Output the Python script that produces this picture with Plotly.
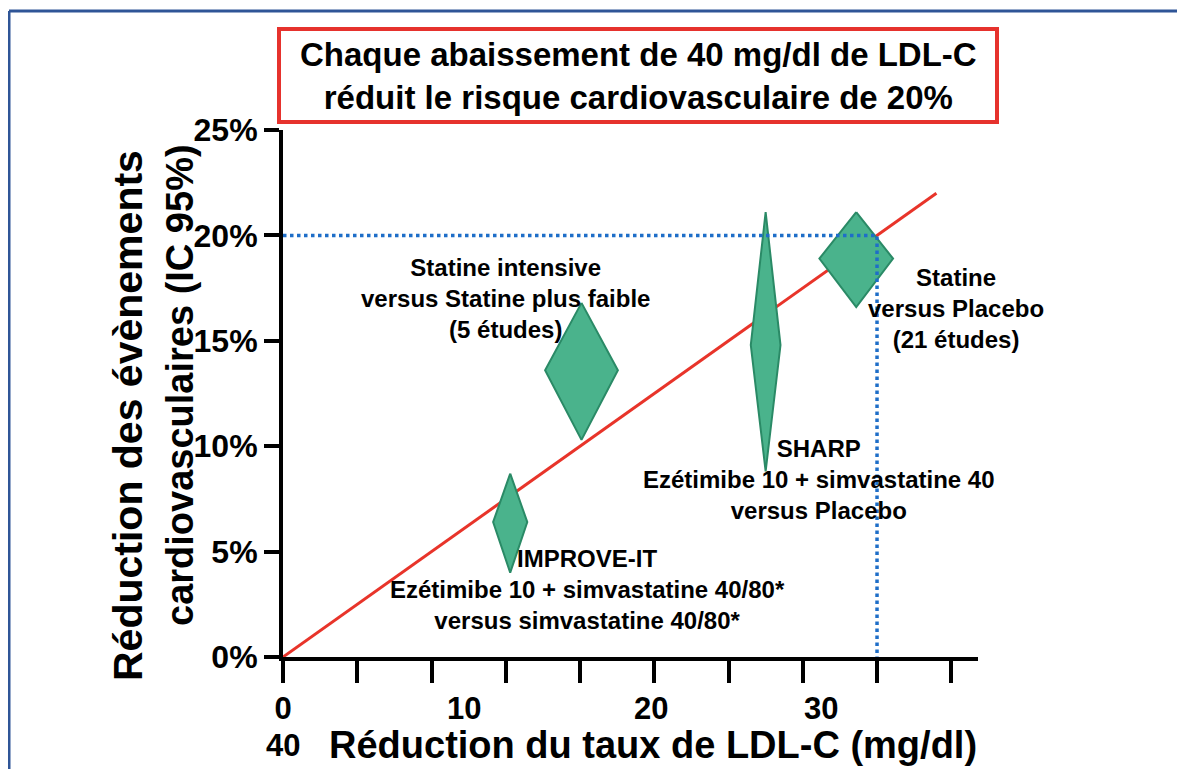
import plotly.graph_objects as go

# ---------------- data ----------------
study_names = ["IMPROVE-IT", "Statine intensive", "SHARP", "Statine vs Placebo"]
ldl_reduction = [15.3, 20.1, 32.5, 38.6]        # mg/dl (diamond centre)
ldl_halfwidth = [1.15, 2.45, 1.0, 2.48]         # mg/dl (diamond half width)
risk_mid = [6.4, 13.6, 14.8, 18.9]              # % reduction (point estimate)
risk_low = [4.0, 10.3, 8.8, 16.6]               # % lower CI
risk_high = [8.7, 16.8, 21.1, 21.1]             # % upper CI

reg_x = [0, 44]                                 # regression line (mg/dl)
reg_y = [0, 22]                                 # % reduction

ref_x = [0, 40, 40]                             # 40 mg/dl -> 20 %
ref_y = [20, 20, 0]

y_ticks = [0, 5, 10, 15, 20, 25]
y_tick_text = ["0%", "5%", "10%", "15%", "20%", "25%"]
x_ticks = [0, 5, 10, 15, 20, 25, 30, 35, 40, 45]
x_label_pos = [0, 12.2, 24.8, 36.25]
x_label_text = ["0", "10", "20", "30", "40"]

label_texts = [
    "IMPROVE-IT<br>Ezétimibe 10 + simvastatine 40/80*<br>versus simvastatine 40/80*",
    "Statine intensive<br>versus Statine plus faible<br>(5 études)",
    "SHARP<br>Ezétimibe 10 + simvastatine 40<br>versus Placebo",
    "Statine<br>versus Placebo<br>(21 études)",
]
label_x = [20.5, 14.95, 36.1, 45.3]
label_y = [3.2, 17.0, 8.4, 16.55]

title_text = "Chaque abaissement de 40 mg/dl de LDL-C<br>réduit le risque cardiovasculaire de 20%"
x_title = "Réduction du taux de LDL-C (mg/dl)"
y_title_1 = "Réduction des évènements"
y_title_2 = "cardiovasculaires (IC 95%)"

# ---------------- layout helpers ----------------
OFF = 8                     # page body margin
W, H = 1185 - OFF, 769 - OFF
L, R, T, B = 283 - OFF, 207, 130 - OFF, 112
PW, PH = W - L - R, H - T - B


def px_x(px):
    """screen pixel x -> paper coordinate"""
    return (px - OFF - L) / PW


def px_y(py):
    """screen pixel y -> paper coordinate"""
    return (H - B - (py - OFF)) / PH


FONT = "Liberation Sans, Arial, sans-serif"
GREEN = "rgb(74,179,140)"
GREEN_DARK = "rgb(42,138,102)"
RED = "rgb(232,52,42)"
BLUE = "rgb(30,110,200)"

fig = go.Figure()

# regression line
fig.add_trace(go.Scatter(x=reg_x, y=reg_y, mode="lines",
                         line=dict(color=RED, width=3), showlegend=False, hoverinfo="skip"))

# diamonds
for cx, hw, lo, mid, hi in zip(ldl_reduction, ldl_halfwidth, risk_low, risk_mid, risk_high):
    fig.add_trace(go.Scatter(
        x=[cx, cx + hw, cx, cx - hw, cx],
        y=[hi, mid, lo, mid, hi],
        mode="lines", fill="toself", fillcolor=GREEN,
        line=dict(color=GREEN_DARK, width=2), showlegend=False, hoverinfo="skip"))

# reference dotted line
fig.add_trace(go.Scatter(x=ref_x, y=ref_y, mode="lines",
                         line=dict(color=BLUE, width=3.5, dash="dot"), showlegend=False,
                         hoverinfo="skip", cliponaxis=False))

# invisible trace for label axis
fig.add_trace(go.Scatter(x=[0], y=[0], xaxis="x2", mode="markers",
                         marker=dict(opacity=0), showlegend=False, hoverinfo="skip"))

annotations = []
for t, lx, ly in zip(label_texts, label_x, label_y):
    annotations.append(dict(x=lx, y=ly, xref="x", yref="y", text=t, showarrow=False,
                            align="center", xanchor="center", yanchor="middle",
                            font=dict(family=FONT, size=24, color="black", weight="bold")))

# main title in box
annotations.append(dict(x=px_x(638), y=px_y(76), xref="paper", yref="paper", text=title_text,
                        showarrow=False, align="center", xanchor="center", yanchor="middle",
                        font=dict(family=FONT, size=33, color="black", weight="bold")))

# x title and stray "40"
annotations.append(dict(x=px_x(653), y=px_y(745), xref="paper", yref="paper", text=x_title,
                        showarrow=False, xanchor="center", yanchor="middle",
                        font=dict(family=FONT, size=38, color="black", weight="bold")))
annotations.append(dict(x=px_x(283), y=px_y(745), xref="paper", yref="paper", text=x_label_text[4],
                        showarrow=False, xanchor="center", yanchor="middle",
                        font=dict(family=FONT, size=31, color="black", weight="bold")))

# y title (two lines)
annotations.append(dict(x=px_x(128), y=px_y(416), xref="paper", yref="paper", text=y_title_1,
                        showarrow=False, textangle=-90, xanchor="center", yanchor="middle",
                        font=dict(family=FONT, size=41, color="black", weight="bold")))
annotations.append(dict(x=px_x(180), y=px_y(385), xref="paper", yref="paper", text=y_title_2,
                        showarrow=False, textangle=-90, xanchor="center", yanchor="middle",
                        font=dict(family=FONT, size=38, color="black", weight="bold")))

shapes = [
    # title box
    dict(type="rect", xref="paper", yref="paper", x0=px_x(279), x1=px_x(997),
         y0=px_y(122), y1=px_y(29), line=dict(color="rgb(230,50,45)", width=4)),
    # outer frame (left and top)
    dict(type="line", xref="paper", yref="paper", x0=px_x(9), x1=px_x(9),
         y0=px_y(11), y1=px_y(780), line=dict(color="rgb(47,85,151)", width=3)),
    dict(type="line", xref="paper", yref="paper", x0=px_x(9), x1=px_x(1200),
         y0=px_y(11), y1=px_y(11), line=dict(color="rgb(47,85,151)", width=3)),
]

fig.update_layout(
    width=W, height=H, autosize=False,
    margin=dict(l=L, r=R, t=T, b=B, pad=0),
    paper_bgcolor="white", plot_bgcolor="white",
    font=dict(family=FONT, color="black"),
    showlegend=False,
    xaxis=dict(range=[0, 46.8], tickvals=x_ticks, showticklabels=False,
               ticks="outside", ticklen=22, tickwidth=4, tickcolor="black",
               showline=True, linewidth=4, linecolor="black",
               showgrid=False, zeroline=False),
    xaxis2=dict(range=[0, 46.8], overlaying="x", anchor="y", side="bottom",
                tickvals=x_label_pos, ticktext=x_label_text[:4],
                ticks="outside", ticklen=24, tickcolor="rgba(0,0,0,0)", tickwidth=1,
                tickfont=dict(family=FONT, size=31, color="black", weight="bold"),
                showline=False, showgrid=False, zeroline=False),
    yaxis=dict(range=[0, 25], tickvals=y_ticks, ticktext=y_tick_text,
               ticks="outside", ticklen=15, tickwidth=4, tickcolor="black",
               tickfont=dict(family=FONT, size=32, color="black", weight="bold"),
               showline=True, linewidth=4, linecolor="black",
               showgrid=False, zeroline=False),
    annotations=annotations,
    shapes=shapes,
)

fig.write_html("out.html")
